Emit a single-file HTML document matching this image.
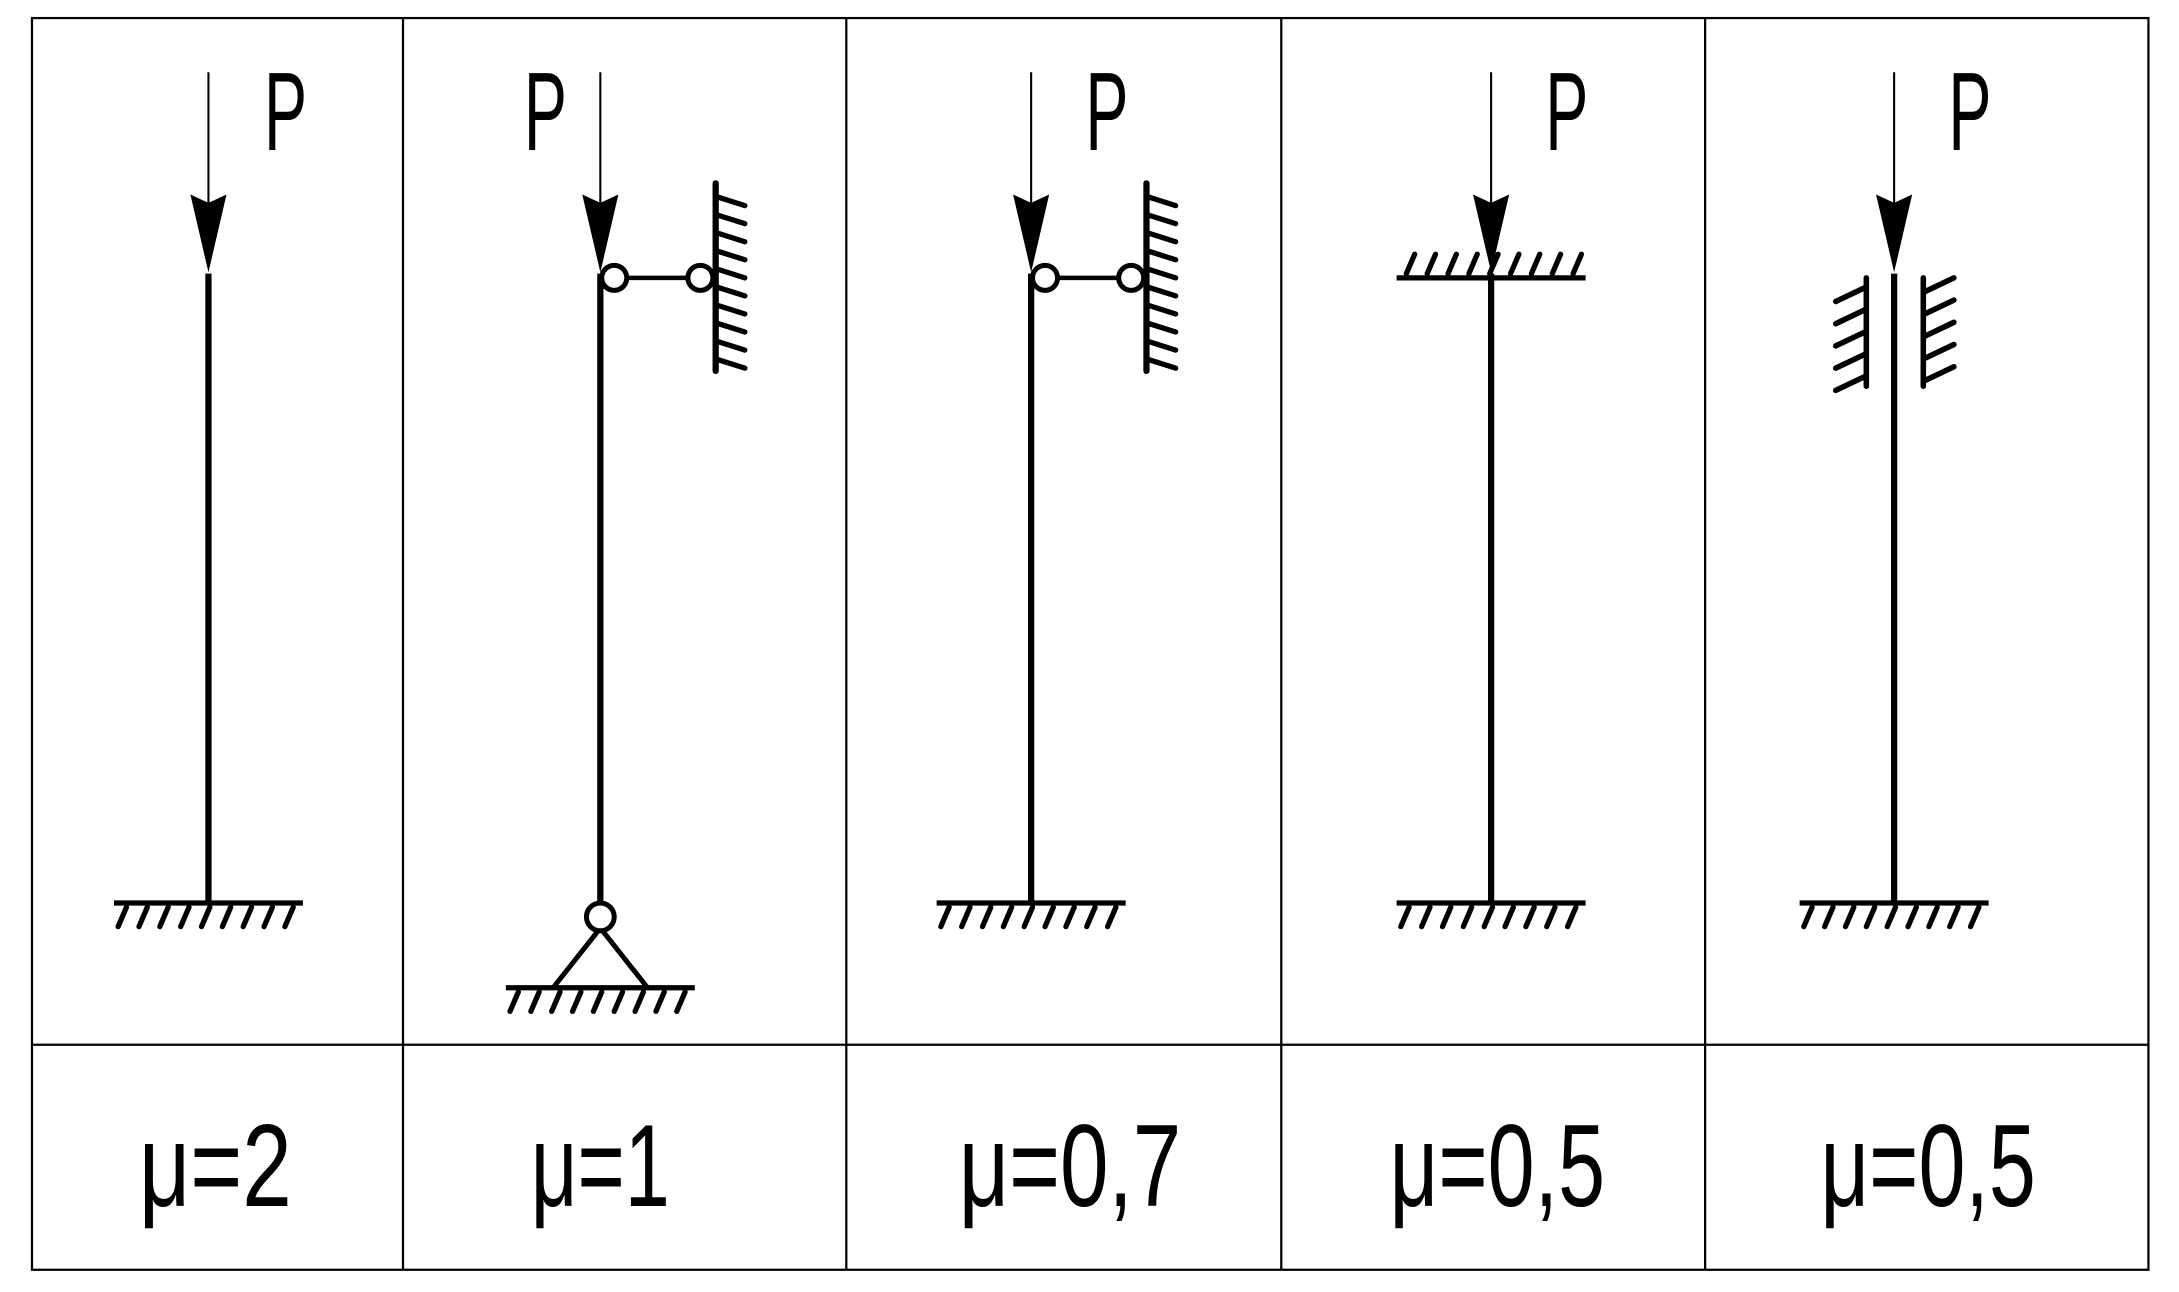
<!DOCTYPE html>
<html><head><meta charset="utf-8"><style>html,body{margin:0;padding:0;background:#fff}svg{display:block}</style></head>
<body>
<svg width="2179" height="1292" viewBox="0 0 1568 930" preserveAspectRatio="none" xmlns="http://www.w3.org/2000/svg">
<defs>
<g id="gnd"><line x1="0" y1="0" x2="136" y2="0" stroke="#000" stroke-width="3.8"/>
<g stroke="#000" stroke-width="3.8" stroke-linecap="round">
<line x1="9" y1="3" x2="3" y2="17"/><line x1="24" y1="3" x2="18" y2="17"/><line x1="39" y1="3" x2="33" y2="17"/><line x1="54" y1="3" x2="48" y2="17"/><line x1="69" y1="3" x2="63" y2="17"/><line x1="84" y1="3" x2="78" y2="17"/><line x1="99" y1="3" x2="93" y2="17"/><line x1="114" y1="3" x2="108" y2="17"/><line x1="129" y1="3" x2="123" y2="17"/></g></g>
<g id="arr"><line x1="0" y1="52" x2="0" y2="146" stroke="#000" stroke-width="1.5"/><polygon points="-13,140 0,146 13,140 0,196" fill="#000"/></g>
<g id="wall"><line x1="0" y1="132" x2="0" y2="267" stroke="#000" stroke-width="4.5" stroke-linecap="round"/>
<g stroke="#000" stroke-width="3.8" stroke-linecap="round">
<line x1="2" y1="142" x2="21" y2="148"/><line x1="2" y1="155" x2="21" y2="161"/><line x1="2" y1="168" x2="21" y2="174"/><line x1="2" y1="181" x2="21" y2="187"/><line x1="2" y1="194" x2="21" y2="200"/><line x1="2" y1="207" x2="21" y2="213"/><line x1="2" y1="220" x2="21" y2="226"/><line x1="2" y1="233" x2="21" y2="239"/><line x1="2" y1="246" x2="21" y2="252"/><line x1="2" y1="259" x2="21" y2="265"/></g></g>
<g id="link"><line x1="9" y1="200" x2="63" y2="200" stroke="#000" stroke-width="3.2"/><circle cx="10" cy="200" r="9" fill="#fff" stroke="#000" stroke-width="3.6"/><circle cx="72" cy="200" r="9" fill="#fff" stroke="#000" stroke-width="3.6"/></g>
</defs>
<g fill="none" stroke="#000" stroke-width="1.6">
<rect x="23" y="13" width="1523" height="901"/>
<line x1="23" y1="752" x2="1546" y2="752"/>
<line x1="290" y1="13" x2="290" y2="914"/><line x1="609" y1="13" x2="609" y2="914"/>
<line x1="922" y1="13" x2="922" y2="914"/><line x1="1227" y1="13" x2="1227" y2="914"/>
</g>
<g stroke="#000" stroke-width="4.5">
<line x1="150" y1="197" x2="150" y2="650"/>
<line x1="432" y1="197" x2="432" y2="652"/>
<line x1="742" y1="197" x2="742" y2="650"/>
<line x1="1073" y1="197" x2="1073" y2="650"/>
<line x1="1363" y1="197" x2="1363" y2="650"/>
</g>
<use href="#arr" transform="translate(150,0)"/>
<use href="#arr" transform="translate(432,0)"/>
<use href="#arr" transform="translate(742,0)"/>
<use href="#arr" transform="translate(1073,0)"/>
<use href="#arr" transform="translate(1363,0)"/>
<use href="#gnd" transform="translate(82,650)"/>
<use href="#gnd" transform="translate(364,711)"/>
<use href="#gnd" transform="translate(674,650)"/>
<use href="#gnd" transform="translate(1005,650)"/>
<use href="#gnd" transform="translate(1295,650)"/>
<use href="#wall" transform="translate(515,0)"/>
<use href="#link" transform="translate(432,0)"/>
<use href="#wall" transform="translate(825,0)"/>
<use href="#link" transform="translate(742,0)"/>
<polyline points="398,711 432,668 466,711" fill="none" stroke="#000" stroke-width="3.6"/>
<circle cx="432" cy="660" r="10" fill="#fff" stroke="#000" stroke-width="3.6"/>
<use href="#gnd" transform="translate(1141,200) scale(-1,-1)"/>
<g stroke="#000" stroke-width="4" stroke-linecap="round">
<line x1="1343" y1="200" x2="1343" y2="278"/>
<line x1="1384" y1="200" x2="1384" y2="278"/>
<line x1="1342" y1="207" x2="1321" y2="217"/><line x1="1342" y1="223" x2="1321" y2="233"/><line x1="1342" y1="239" x2="1321" y2="249"/><line x1="1342" y1="255" x2="1321" y2="265"/><line x1="1342" y1="271" x2="1321" y2="281"/>
<line x1="1385" y1="210" x2="1406" y2="200"/><line x1="1385" y1="226" x2="1406" y2="216"/><line x1="1385" y1="242" x2="1406" y2="232"/><line x1="1385" y1="258" x2="1406" y2="248"/><line x1="1385" y1="274" x2="1406" y2="264"/>
</g>
<g font-family="Liberation Sans, sans-serif" font-size="80" fill="#000">
<text x="190" y="108" textLength="31" lengthAdjust="spacingAndGlyphs">P</text>
<text x="377" y="108" textLength="31" lengthAdjust="spacingAndGlyphs">P</text>
<text x="781" y="108" textLength="31" lengthAdjust="spacingAndGlyphs">P</text>
<text x="1112" y="108" textLength="31" lengthAdjust="spacingAndGlyphs">P</text>
<text x="1402" y="108" textLength="31" lengthAdjust="spacingAndGlyphs">P</text>
</g>
<g font-family="Liberation Sans, sans-serif" font-size="84" fill="#000">
<text x="100" y="868" textLength="110" lengthAdjust="spacingAndGlyphs">μ=2</text>
<text x="382" y="868" textLength="100" lengthAdjust="spacingAndGlyphs">μ=1</text>
<text x="690" y="868" textLength="160" lengthAdjust="spacingAndGlyphs">μ=0,7</text>
<text x="1000" y="868" textLength="155" lengthAdjust="spacingAndGlyphs">μ=0,5</text>
<text x="1310" y="868" textLength="155" lengthAdjust="spacingAndGlyphs">μ=0,5</text>
</g>
</svg>
</body></html>
